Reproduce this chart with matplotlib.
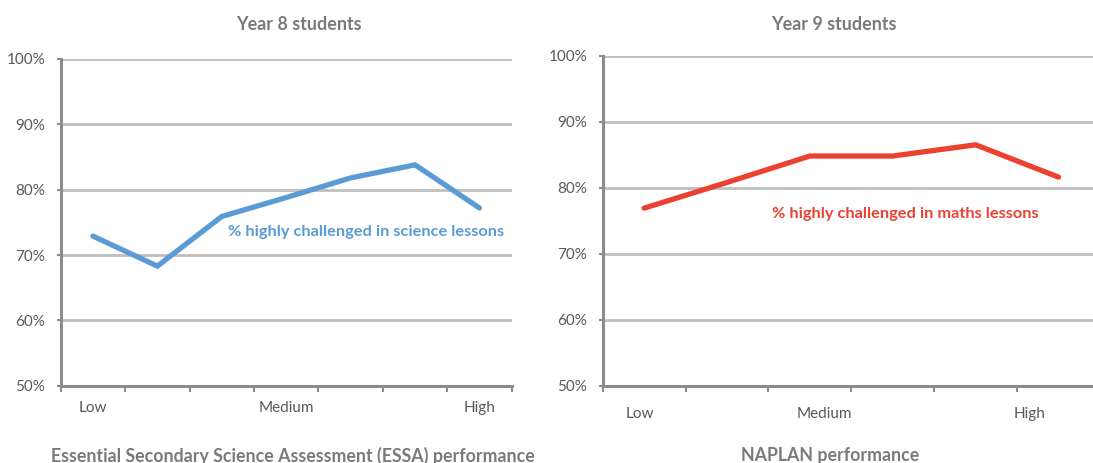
import matplotlib
matplotlib.use("Agg")
import matplotlib.pyplot as plt
import numpy as np

plt.rcParams['font.family'] = ['Lato', 'DejaVu Sans']

# ---- data ----
y8_values = [72.9, 68.3, 75.9, 78.8, 81.8, 83.8, 77.2]
y9_values = [76.9, 80.8, 84.8, 84.8, 86.5, 81.6]
y8_tick_labels = ["Low", "Medium", "High"]
y9_tick_labels = ["Low", "Medium", "High"]
y_ticks = [50, 60, 70, 80, 90, 100]
y8_title = "Year 8 students"
y9_title = "Year 9 students"
y8_xlabel = "Essential Secondary Science Assessment (ESSA) performance"
y9_xlabel = "NAPLAN performance"
y8_series = "% highly challenged in science lessons"
y9_series = "% highly challenged in maths lessons"

BLUE = "#5B9BD5"
RED = "#EC4130"
GRID = "#BFBFBF"
AXIS = "#8C8C8C"
TXT = "#595959"
TITLE = "#7A7A7A"

W, H = 1093, 463
fig = plt.figure(figsize=(W / 100, H / 100), dpi=100)


def px_axes(x0, x1, ytop, ybot):
    return fig.add_axes([x0 / W, 1 - ybot / H, (x1 - x0) / W, (ybot - ytop) / H])


def style(ax, n, values, color, label_pos, labels, xpad):
    x = np.arange(n)
    ax.plot(x, values, color=color, lw=3.8, solid_capstyle='round',
            solid_joinstyle='miter', zorder=3)
    ax.set_xlim(-0.5, n - 0.5)
    ax.set_ylim(50, 100)
    ax.set_yticks(y_ticks)
    ax.set_yticklabels([f"{v}%" for v in y_ticks], color=TXT, fontsize=11)
    ax.grid(axis='y', color=GRID, lw=2)
    ax.set_axisbelow(True)
    for s in ['top', 'right']:
        ax.spines[s].set_visible(False)
    for s in ['left', 'bottom']:
        ax.spines[s].set_color(AXIS)
        ax.spines[s].set_linewidth(2.2)
    ax.tick_params(axis='y', length=3, width=1.5, color=AXIS, pad=8)
    ax.set_xticks(np.arange(n + 1) - 0.5, minor=True)
    ax.tick_params(axis='x', which='minor', length=4, width=1.5, color=AXIS)
    ax.set_xticks(label_pos)
    ax.set_xticklabels(labels, color=TXT, fontsize=11)
    ax.tick_params(axis='x', which='major', length=0, pad=xpad)


ax1 = px_axes(60.7, 511.7, 59, 385.7)
style(ax1, len(y8_values), y8_values, BLUE, [0, 3, 6], y8_tick_labels, 11)
ax2 = px_axes(602.7, 1100.0, 55.7, 385.7)
style(ax2, len(y9_values), y9_values, RED, [-0.05, 2.18, 4.65], y9_tick_labels, 15)

# titles
fig.text(298.7 / W, 1 - 24 / H, y8_title, ha='center', va='center',
         fontsize=12.9, fontweight='bold', color=TITLE)
fig.text(834 / W, 1 - 24 / H, y9_title, ha='center', va='center',
         fontsize=12.9, fontweight='bold', color=TITLE)

# x-axis titles
fig.text(293 / W, 1 - 456 / H, y8_xlabel, ha='center', va='center',
         fontsize=12.8, fontweight='bold', color=TITLE)
fig.text(830 / W, 1 - 456 / H, y9_xlabel, ha='center', va='center',
         fontsize=12.8, fontweight='bold', color=TITLE)

# series labels
fig.text(228 / W, 1 - 231.7 / H, y8_series, ha='left', va='center',
         fontsize=11.8, fontweight='bold', color=BLUE)
fig.text(771.7 / W, 1 - 214.3 / H, y9_series, ha='left', va='center',
         fontsize=11.8, fontweight='bold', color=RED)

fig.savefig("out.png", dpi=100)
